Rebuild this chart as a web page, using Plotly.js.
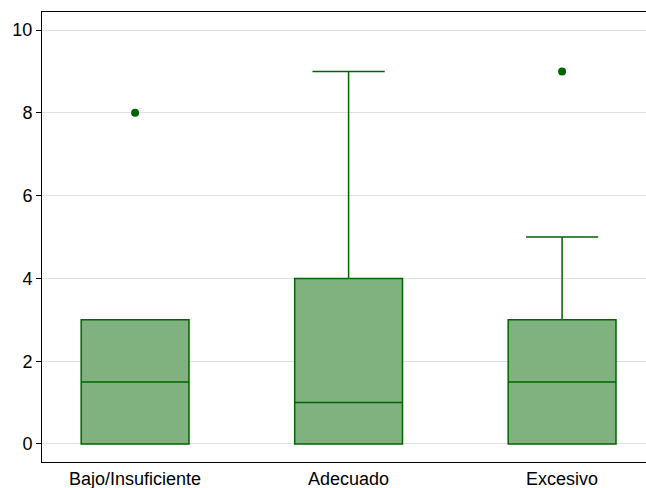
<!DOCTYPE html>
<html>
<head>
<meta charset="utf-8">
<script src="https://cdn.plot.ly/plotly-3.0.1.min.js"></script>
<style>html,body{margin:0;padding:0;background:#fff;}#chart{width:646px;height:488px;}</style>
</head>
<body>
<div id="chart"></div>
<script>
const categories = ["Bajo/Insuficiente", "Adecuado", "Excesivo"];
const lowerFence = [0, 0, 0];
const q1 = [0, 0, 0];
const median = [1.5, 1, 1.5];
const q3 = [3, 4, 3];
const upperFence = [3, 9, 5];
const outlierX = ["Bajo/Insuficiente", "Excesivo"];
const outlierY = [8, 9];
const yTicks = [0, 2, 4, 6, 8, 10];

const green = "rgb(0,100,0)";
const data = [
  {
    type: "box",
    x: categories,
    q1: q1,
    median: median,
    q3: q3,
    lowerfence: lowerFence,
    upperfence: upperFence,
    width: 0.505,
    whiskerwidth: 0.67,
    fillcolor: "rgb(128,178,128)",
    line: {color: green, width: 1.5},
    boxpoints: false,
    hoverinfo: "skip",
    showlegend: false
  },
  {
    type: "scatter",
    mode: "markers",
    x: outlierX,
    y: outlierY,
    marker: {color: green, size: 8, symbol: "circle"},
    hoverinfo: "skip",
    showlegend: false
  }
];

const layout = {
  width: 646,
  height: 488,
  margin: {l: 42, r: 0, t: 12, b: 26},
  paper_bgcolor: "#fff",
  plot_bgcolor: "#fff",
  font: {family: "Liberation Sans, Arial, sans-serif", size: 18, color: "#000"},
  showlegend: false,
  xaxis: {
    type: "category",
    categoryorder: "array",
    categoryarray: categories,
    range: [-0.436, 2.393],
    showline: true,
    mirror: true,
    linecolor: "#000",
    linewidth: 1,
    showgrid: false,
    zeroline: false,
    ticks: "",
    ticklen: 0,
    tickfont: {size: 18}
  },
  yaxis: {
    range: [-0.435, 10.435],
    tickvals: yTicks,
    ticktext: yTicks.map(String),
    showline: true,
    linecolor: "#000",
    linewidth: 1,
    ticks: "outside",
    ticklen: 5,
    tickcolor: "#000",
    showgrid: true,
    gridcolor: "#e0e0e0",
    gridwidth: 1,
    zeroline: false,
    tickfont: {size: 18}
  }
};

Plotly.newPlot("chart", data, layout, {displayModeBar: false, staticPlot: true});
</script>
</body>
</html>
